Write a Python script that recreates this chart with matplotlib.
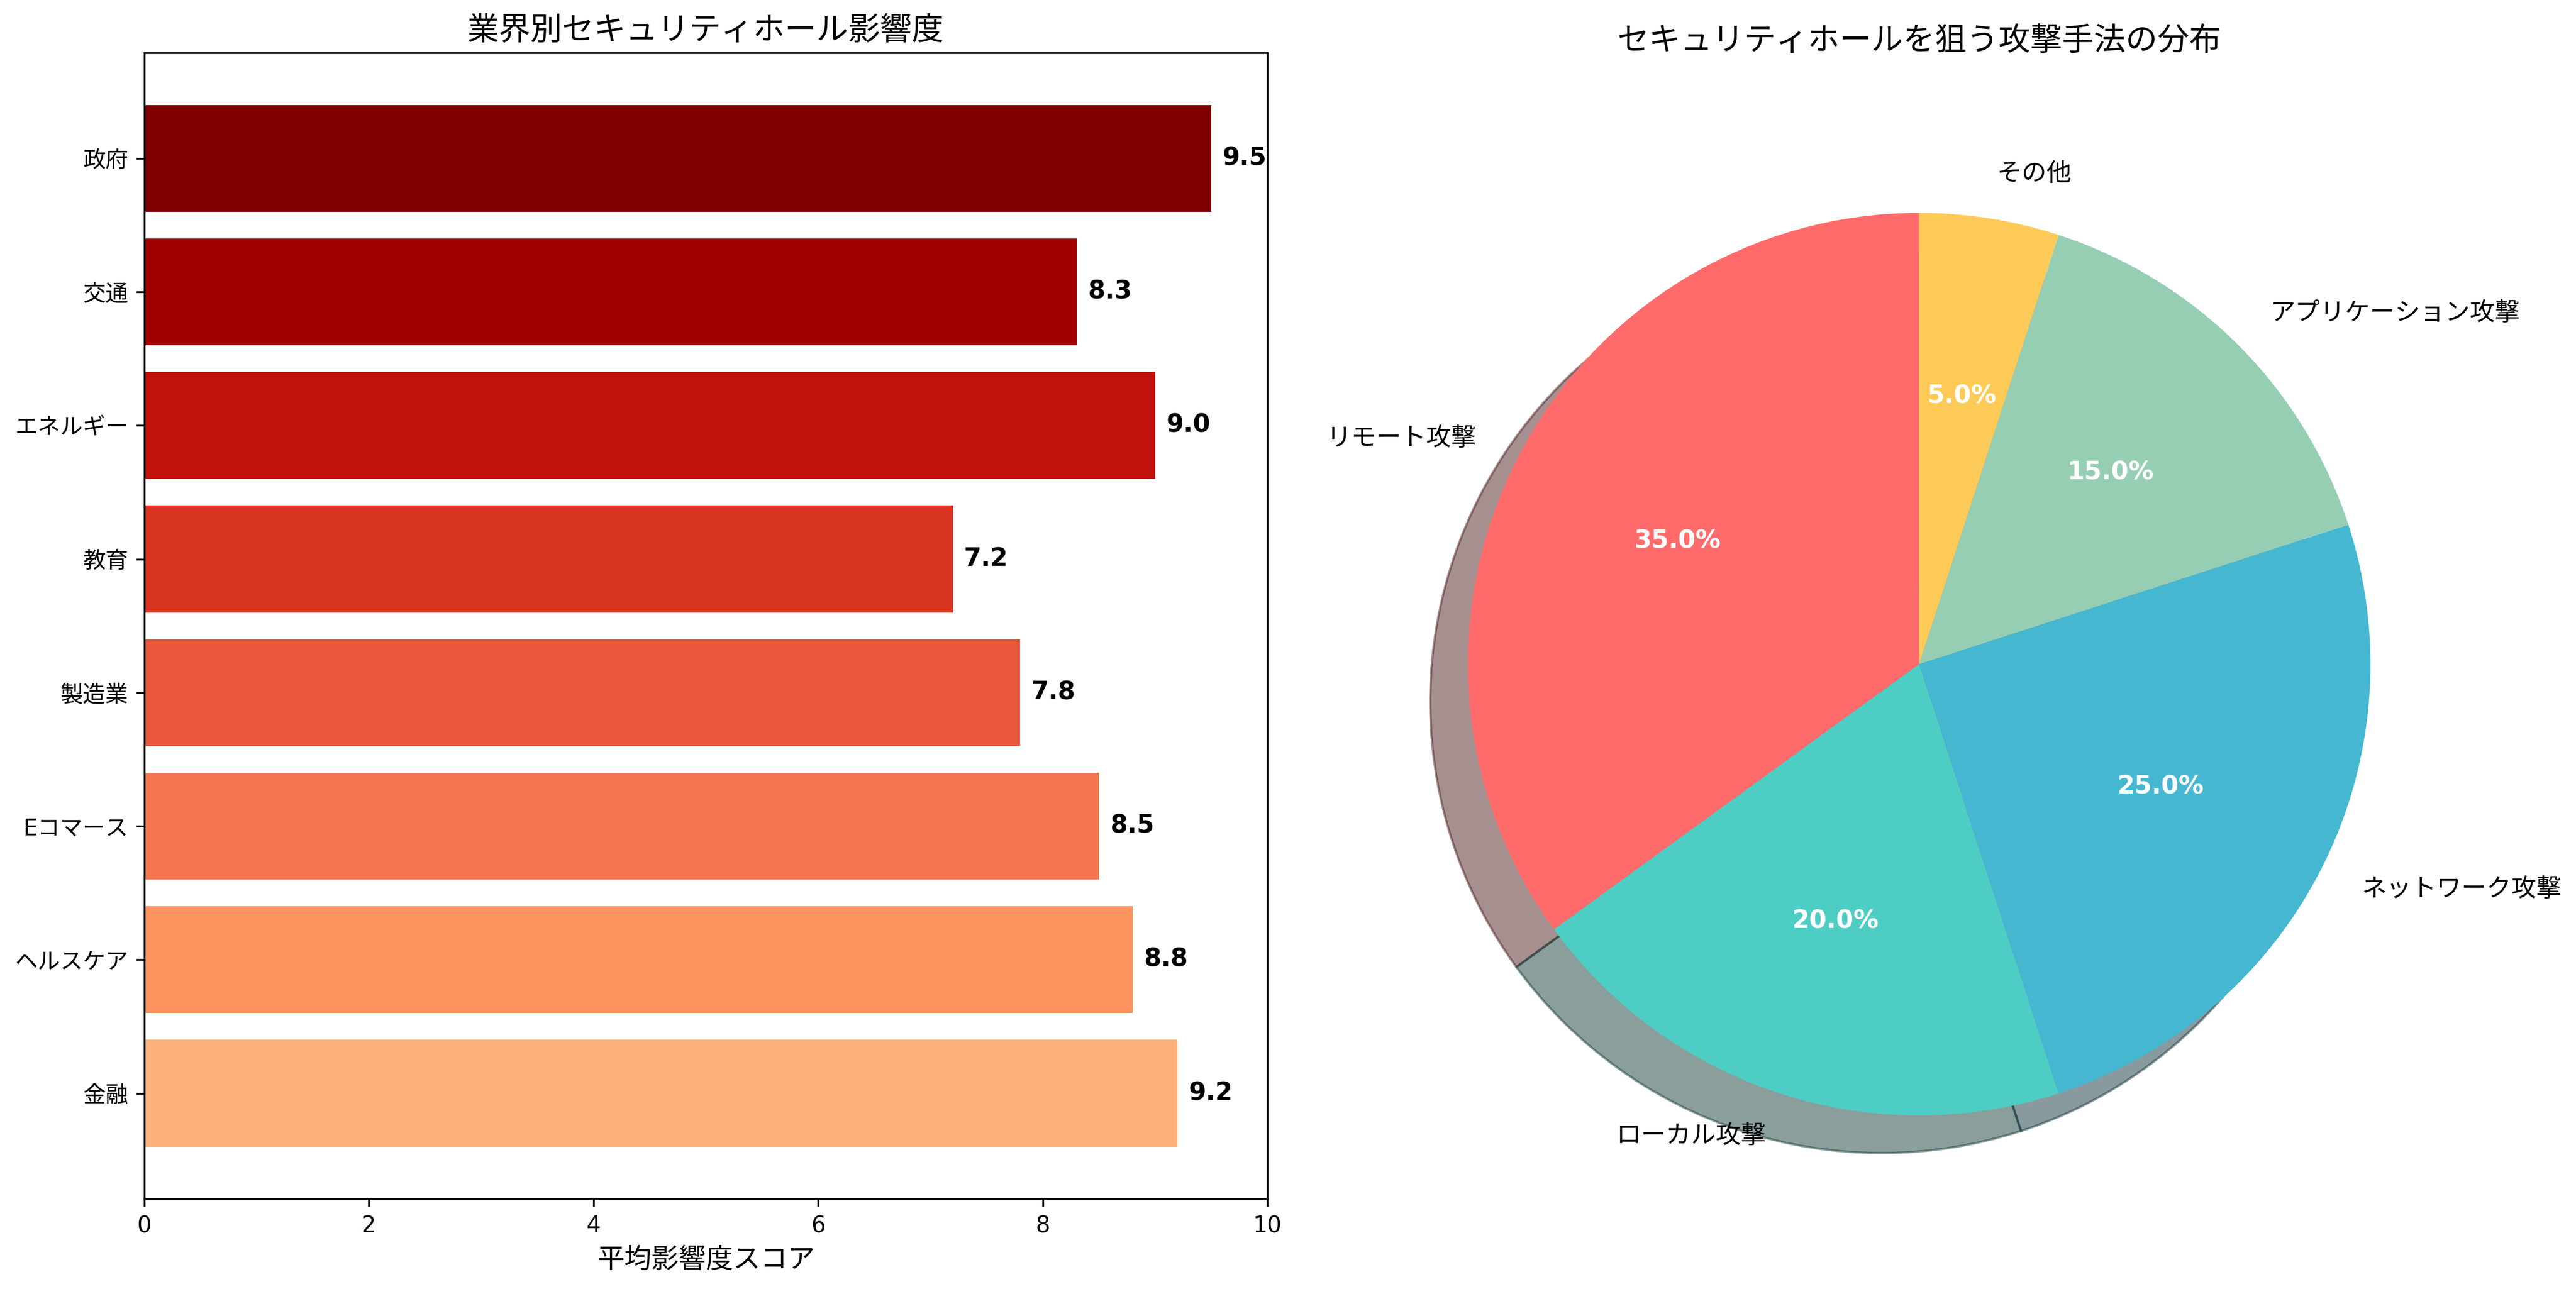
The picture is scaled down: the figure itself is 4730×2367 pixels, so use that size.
import matplotlib
matplotlib.use("Agg")
import matplotlib.pyplot as plt
import numpy as np

plt.rcParams['font.family'] = ['DejaVu Sans', 'Noto Sans CJK JP']

industries = ['金融', 'ヘルスケア', 'Eコマース', '製造業', '教育', 'エネルギー', '交通', '政府']
scores = [9.2, 8.8, 8.5, 7.8, 7.2, 9.0, 8.3, 9.5]

attack_labels = ['リモート攻撃', 'ローカル攻撃', 'ネットワーク攻撃', 'アプリケーション攻撃', 'その他']
attack_shares = [35, 20, 25, 15, 5]
pie_colors = ['#FF6B6B', '#4ECDC4', '#45B7D1', '#96CEB4', '#FECA57']

fig = plt.figure(figsize=(15.7667, 7.89), dpi=300)
ax1 = fig.add_axes([0.056, 0.070, 0.436, 0.889])
ax2 = fig.add_axes([0.526, 0.0465, 0.438, 0.8765])

bar_colors = plt.cm.OrRd(np.linspace(0.4, 1.0, len(industries)))
bars = ax1.barh(industries, scores, color=bar_colors)
for b, v in zip(bars, scores):
    ax1.text(v + 0.1, b.get_y() + b.get_height() / 2, f'{v}', va='center',
             fontweight='bold', fontsize=11)
ax1.set_xlim(0, 10)
ax1.set_xlabel('平均影響度スコア', fontsize=12)
ax1.set_title('業界別セキュリティホール影響度', fontsize=14)

wedges, texts, autotexts = ax2.pie(attack_shares, labels=attack_labels, colors=pie_colors,
                                   autopct='%1.1f%%', startangle=90, shadow=True,
                                   textprops={'fontsize': 11})
for t in autotexts:
    t.set_color('white')
    t.set_fontweight('bold')
ax2.set_xlim(-1.25, 1.25)
ax2.set_ylim(-1.25, 1.25)
ax2.set_aspect('equal')
ax2.set_title('セキュリティホールを狙う攻撃手法の分布', fontsize=14, pad=22)

plt.savefig('out.png', dpi=300)
